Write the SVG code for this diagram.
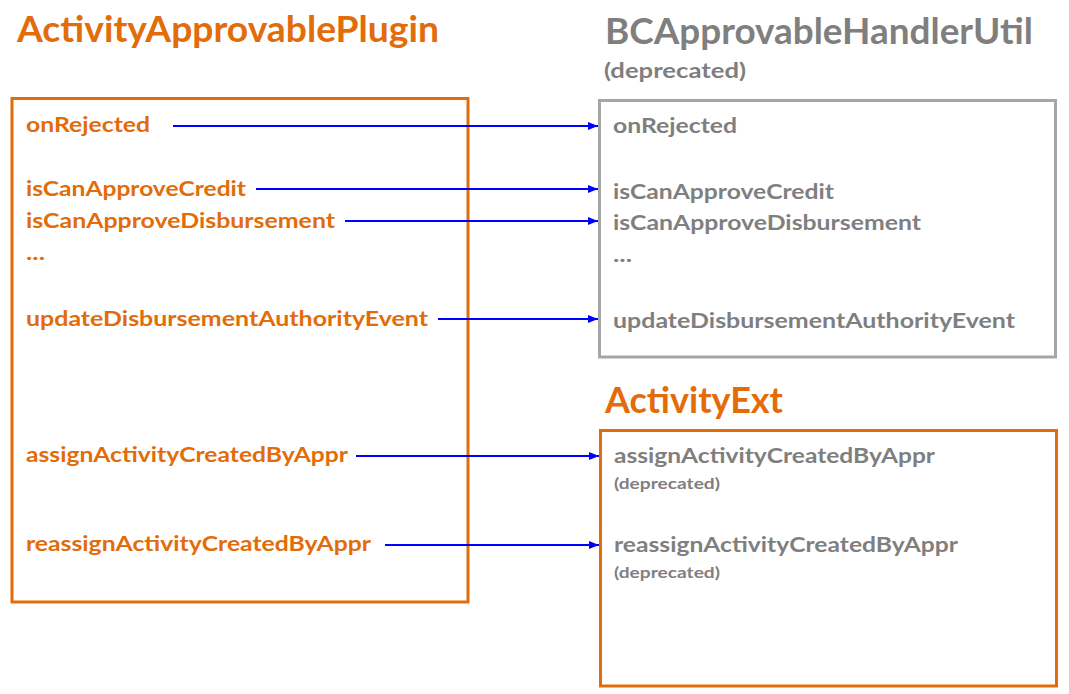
<svg xmlns="http://www.w3.org/2000/svg" width="1069" height="694" viewBox="0 0 1069 694">
<style>
text{font-family:Lato,"Open Sans","Liberation Sans",sans-serif;font-weight:bold}
.t{font-size:37px}
.o{fill:#E36C0A}
.g{fill:#7F7F7F}
.m{font-size:21px}
.s{font-size:15px}
.sub{font-size:20px}
.box{fill:none;stroke-width:3}
.ob{stroke:#E36C0A}
.gb{stroke:#A6A6A6}
.c{stroke:#0000FF;stroke-width:2;fill:none}
</style>
<defs>
<marker id="ah" viewBox="0 0 10 10" refX="10" refY="5" markerWidth="10" markerHeight="10" markerUnits="userSpaceOnUse" orient="auto">
<path d="M0,1 L10,5 L0,9 Z" fill="#0000FF"/>
</marker>
</defs>
<rect width="1069" height="694" fill="#fff"/>
<g id="plugin">
<text class="t o" x="17" y="41.5" textLength="422" lengthAdjust="spacingAndGlyphs">ActivityApprovablePlugin</text>
<rect class="box ob" x="12" y="98.5" width="456" height="503.5"/>
<text class="m o" x="26" y="131.5" textLength="124" lengthAdjust="spacingAndGlyphs">onRejected</text>
<text class="m o" x="26" y="196" textLength="220" lengthAdjust="spacingAndGlyphs">isCanApproveCredit</text>
<text class="m o" x="26" y="228" textLength="309" lengthAdjust="spacingAndGlyphs">isCanApproveDisbursement</text>
<text class="m o" x="26" y="260" textLength="19" lengthAdjust="spacingAndGlyphs">...</text>
<text class="m o" x="26" y="326" textLength="402" lengthAdjust="spacingAndGlyphs">updateDisbursementAuthorityEvent</text>
<text class="m o" x="26" y="462" textLength="322" lengthAdjust="spacingAndGlyphs">assignActivityCreatedByAppr</text>
<text class="m o" x="26" y="551" textLength="345" lengthAdjust="spacingAndGlyphs">reassignActivityCreatedByAppr</text>
</g>
<g id="handlerutil">
<text class="t g" x="605" y="43.5" textLength="428" lengthAdjust="spacingAndGlyphs">BCApprovableHandlerUtil</text>
<text class="sub g" x="604" y="77.5" textLength="142" lengthAdjust="spacingAndGlyphs">(deprecated)</text>
<rect class="box gb" x="599.5" y="100.5" width="456" height="256.5"/>
<text class="m g" x="613" y="133" textLength="124" lengthAdjust="spacingAndGlyphs">onRejected</text>
<text class="m g" x="613" y="198.5" textLength="221" lengthAdjust="spacingAndGlyphs">isCanApproveCredit</text>
<text class="m g" x="613" y="230" textLength="308" lengthAdjust="spacingAndGlyphs">isCanApproveDisbursement</text>
<text class="m g" x="613" y="262" textLength="19" lengthAdjust="spacingAndGlyphs">...</text>
<text class="m g" x="613" y="327.5" textLength="402" lengthAdjust="spacingAndGlyphs">updateDisbursementAuthorityEvent</text>
</g>
<g id="activityext">
<text class="t o" x="605" y="413" textLength="178" lengthAdjust="spacingAndGlyphs">ActivityExt</text>
<rect class="box ob" x="600.5" y="430.5" width="456" height="255.5"/>
<text class="m g" x="614" y="462.5" textLength="321" lengthAdjust="spacingAndGlyphs">assignActivityCreatedByAppr</text>
<text class="s g" x="614" y="488.5" textLength="106" lengthAdjust="spacingAndGlyphs">(deprecated)</text>
<text class="m g" x="614" y="551.5" textLength="344" lengthAdjust="spacingAndGlyphs">reassignActivityCreatedByAppr</text>
<text class="s g" x="614" y="578" textLength="106" lengthAdjust="spacingAndGlyphs">(deprecated)</text>
</g>
<g id="connectors">
<line class="c" x1="173" y1="126" x2="598" y2="126" marker-end="url(#ah)"/>
<line class="c" x1="256" y1="189" x2="598" y2="189" marker-end="url(#ah)"/>
<line class="c" x1="345" y1="221" x2="598" y2="221" marker-end="url(#ah)"/>
<line class="c" x1="438" y1="319" x2="598" y2="319" marker-end="url(#ah)"/>
<line class="c" x1="356" y1="456" x2="599" y2="456" marker-end="url(#ah)"/>
<line class="c" x1="385" y1="545" x2="599" y2="545" marker-end="url(#ah)"/>
</g>
</svg>
